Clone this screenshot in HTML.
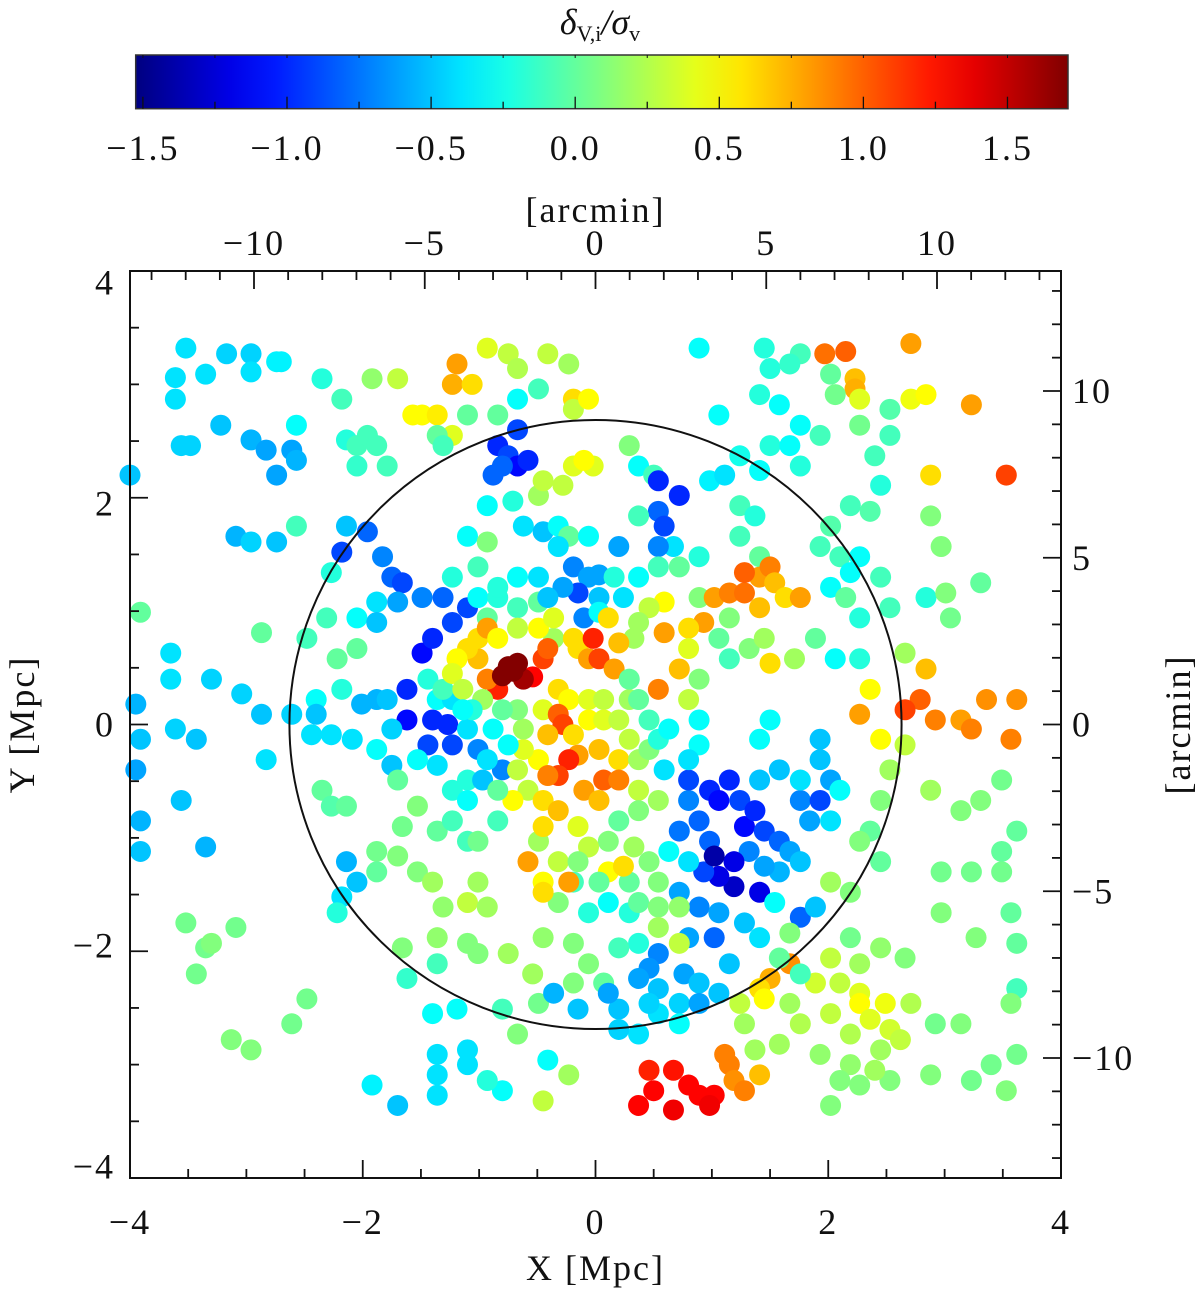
<!DOCTYPE html>
<html><head><meta charset="utf-8"><style>
html,body{margin:0;padding:0;background:#fff;}
svg{display:block;font-family:"Liberation Serif",serif;}
</style></head><body>
<svg id="chart" width="1200" height="1290" viewBox="0 0 1200 1290" xmlns="http://www.w3.org/2000/svg">
<defs><linearGradient id="jet" x1="0" x2="1" y1="0" y2="0"></linearGradient></defs>
<g id="cbar"></g>
<g id="points"></g>
<g id="axes"></g>
</svg>
<script>
// ---- data (X [Mpc], Y [Mpc], delta_v/sigma_v) ----
const outerLeft=[[-3.52,3.32,-0.4],[-3.61,3.06,-0.4],[-3.35,3.09,-0.4],[-3.17,3.27,-0.45],[-2.96,3.27,-0.45],[-2.96,3.11,-0.4],[-2.74,3.20,-0.35],[-2.70,3.20,-0.35],[-3.61,2.87,-0.4],[-3.22,2.64,-0.5],[-2.96,2.51,-0.55],[-2.83,2.42,-0.6],[-2.74,2.20,-0.6],[-2.61,2.42,-0.6],[-2.57,2.33,-0.55],[-2.57,2.64,-0.3],[-3.56,2.46,-0.45],[-3.48,2.46,-0.45],[-4.0,2.20,-0.5],[-3.09,1.66,-0.55],[-2.96,1.61,-0.45],[-2.74,1.61,-0.5],[-2.57,1.75,-0.1],[-3.91,0.99,0.0],[-2.87,0.81,0.0],[-3.65,0.63,-0.4],[-3.65,0.40,-0.4],[-3.30,0.40,-0.45],[-3.95,0.18,-0.55],[-3.91,-0.13,-0.5],[-3.61,-0.04,-0.45],[-3.43,-0.13,-0.5],[-3.04,0.27,-0.45],[-2.87,0.09,-0.5],[-2.61,0.09,-0.45],[-2.83,-0.31,-0.4],[-3.95,-0.40,-0.6],[-3.91,-0.85,-0.55],[-3.91,-1.12,-0.5],[-3.56,-0.67,-0.5],[-3.35,-1.08,-0.55],[-3.52,-1.75,0.05],[-3.35,-1.97,0.05],[-3.43,-2.20,0.05],[-3.30,-1.93,0.1],[-3.09,-1.79,0.05],[-3.13,-2.78,0.1],[-2.96,-2.87,0.1],[-2.61,-2.64,0.05],[-2.48,-2.42,0.05]];
const topMiddle=[[-2.35,3.05,-0.2],[-2.18,2.87,-0.1],[-1.92,3.05,0.15],[-1.70,3.05,0.3],[-1.57,2.73,0.5],[-1.49,2.73,0.5],[-1.36,2.73,0.55],[-1.23,2.55,0.4],[-1.19,3.18,0.8],[-1.23,3.00,0.75],[-1.06,3.00,0.6],[-0.93,3.32,0.4],[-0.75,3.27,0.3],[-0.67,3.14,0.25],[-0.41,3.27,0.3],[-0.23,3.18,0.2],[-0.19,2.87,0.6],[-1.10,2.73,0.0],[-0.84,2.73,0.0],[-0.67,2.87,-0.3],[-0.49,2.96,-0.1],[-1.36,2.55,0.0],[-1.31,2.46,-0.1],[-2.14,2.51,-0.2],[-2.05,2.46,-0.1],[-1.96,2.55,-0.1],[-1.88,2.46,-0.1],[-2.05,2.28,-0.15],[-1.79,2.28,-0.1]];
const topRight=[[0.89,3.32,-0.3],[1.45,3.32,-0.2],[1.76,3.27,-0.1],[1.97,3.27,0.95],[2.15,3.29,1.0],[2.71,3.36,0.8],[1.50,3.14,-0.2],[1.67,3.18,-0.15],[2.02,3.09,0.0],[2.23,3.05,0.7],[2.23,2.96,0.75],[2.06,2.91,0.05],[2.27,2.87,0.4],[2.71,2.87,0.45],[2.84,2.91,0.5],[3.23,2.82,0.8],[3.53,2.20,1.1],[2.88,2.20,0.6],[1.41,2.91,-0.2],[1.58,2.82,-0.3],[1.76,2.64,-0.3],[1.93,2.55,-0.1],[2.27,2.64,0.05],[2.53,2.78,-0.05],[2.53,2.55,-0.1],[2.40,2.37,-0.1],[2.45,2.11,-0.2],[2.19,1.93,-0.1],[2.36,1.88,-0.05],[2.88,1.84,0.1],[2.97,1.57,0.1],[2.84,1.12,-0.2],[3.01,1.16,0.1],[3.05,0.94,0.05],[3.31,1.25,0.0]];
const outerRight=[[2.66,0.63,0.2],[2.84,0.49,0.7],[2.79,0.22,1.0],[2.66,0.13,1.1],[2.92,0.04,0.9],[3.14,0.04,0.8],[3.36,0.22,0.85],[3.62,0.22,0.85],[3.57,-0.13,0.9],[3.23,-0.04,0.9],[2.66,-0.18,0.3],[2.88,-0.58,0.2],[3.14,-0.76,0.1],[3.31,-0.67,0.1],[3.49,-0.49,0.05],[3.62,-0.94,0.0],[3.49,-1.12,0.0],[2.97,-1.30,0.05],[3.23,-1.30,0.05],[3.49,-1.30,0.05],[2.97,-1.66,0.1],[3.27,-1.88,0.1],[3.57,-1.66,0.0],[3.62,-1.93,0.0],[3.62,-2.33,-0.1],[3.57,-2.46,0.1],[3.62,-2.91,0.05],[3.40,-3.00,0.05],[3.23,-3.14,0.05],[3.53,-3.23,0.1],[2.88,-3.09,0.1],[2.92,-2.64,0.05],[3.14,-2.64,0.1]];
const bottomRight=[[2.45,-1.97,0.15],[2.27,-2.11,0.2],[2.02,-2.06,0.3],[1.89,-2.28,0.35],[2.10,-2.28,0.3],[2.27,-2.37,0.4],[2.27,-2.46,0.5],[2.49,-2.46,0.45],[2.36,-2.60,0.4],[2.53,-2.69,0.35],[2.62,-2.78,0.3],[2.71,-2.46,0.25],[2.02,-2.55,0.3],[2.19,-2.73,0.25],[2.45,-2.87,0.2],[2.19,-3.00,0.15],[1.93,-2.91,0.15],[2.10,-3.14,0.1],[2.27,-3.18,0.1],[2.53,-3.14,0.1],[2.40,-3.05,0.2],[2.02,-3.36,0.1],[1.67,-2.46,0.2],[1.67,-2.11,0.85],[1.50,-2.24,0.75],[1.41,-2.33,0.6],[1.45,-2.42,0.5],[1.24,-2.46,0.3],[1.28,-2.64,0.2],[1.37,-2.87,0.2],[1.58,-2.82,0.2],[1.76,-2.64,0.25],[2.66,-2.06,0.1],[2.19,-1.88,0.05]];
const bottomCenter=[[1.11,-2.91,0.9],[1.15,-3.00,0.9],[1.19,-3.14,0.85],[1.41,-3.09,0.7],[1.28,-3.23,0.9],[0.46,-3.05,1.2],[0.67,-3.05,1.25],[0.37,-3.36,1.3],[0.50,-3.23,1.3],[0.67,-3.40,1.35],[0.89,-3.27,1.3],[1.02,-3.27,1.3],[0.98,-3.36,1.35],[0.80,-3.18,1.3],[-0.41,-2.96,-0.3],[-0.23,-3.09,0.2],[-0.80,-3.23,-0.3],[-0.93,-3.14,-0.2],[-1.10,-2.87,-0.4],[-1.10,-3.00,-0.4],[-1.36,-2.91,-0.4],[-1.36,-3.09,-0.4],[-1.36,-3.27,-0.4],[-0.67,-2.73,0.1],[-0.45,-3.32,0.3],[-1.40,-2.55,-0.3],[-1.19,-2.51,-0.3],[-0.80,-2.51,-0.1],[-0.49,-2.46,0.05],[-1.70,-3.36,-0.5],[-1.92,-3.18,-0.35]];
const innerLeft=[[-2.14,1.75,-0.5],[-1.96,1.70,-0.8],[-2.18,1.52,-0.9],[-1.83,1.48,-0.7],[-1.75,1.30,-0.8],[-1.66,1.25,-0.9],[-1.88,1.08,-0.4],[-2.05,0.94,-0.3],[-1.88,0.90,-0.5],[-2.27,1.34,-0.2],[-2.31,0.94,-0.1],[-2.48,0.76,-0.1],[-2.22,0.58,0.0],[-2.05,0.67,0.0],[-2.18,0.31,-0.2],[-2.40,0.22,-0.3],[-2.40,0.09,-0.5],[-2.44,-0.09,-0.4],[-2.27,-0.09,-0.4],[-2.09,-0.13,-0.4],[-1.88,-0.22,-0.3],[-1.75,-0.36,-0.5],[-1.62,0.31,-1.0],[-1.62,0.04,-1.1],[-1.40,0.04,-1.0],[-1.44,-0.18,-0.9],[-1.27,0.0,-1.0],[-1.49,0.63,-1.1],[-1.40,0.76,-1.0],[-1.23,0.90,-0.9],[-1.31,1.12,-0.8],[-1.49,1.12,-0.7],[-1.70,1.08,-0.6],[-2.35,-0.58,0.0],[-2.27,-0.72,-0.05],[-2.14,-0.72,0.0],[-2.14,-1.21,-0.55],[-2.05,-1.39,-0.5],[-2.18,-1.52,-0.4],[-2.22,-1.66,-0.2],[-1.88,-1.12,0.05],[-1.88,-1.30,0.0],[-1.70,-1.16,0.1],[-1.53,-1.30,0.1],[-1.40,-1.39,0.2],[-1.31,-1.61,0.15],[-1.10,-1.57,0.3],[-1.01,-1.39,0.2],[-0.93,-1.61,0.2],[-1.36,-0.94,0.0],[-1.23,-0.85,-0.1],[-1.10,-1.03,-0.1],[-1.01,-1.03,0.05],[-1.53,-0.72,0.1],[-1.70,-0.49,0.0],[-0.84,-0.85,-0.1],[-1.23,-0.58,-0.2],[-1.10,-0.49,-0.2],[-1.88,0.22,-0.55],[-1.75,-0.04,-0.45],[-1.66,-1.97,0.1],[-1.36,-1.88,0.15],[-1.10,-1.93,0.1],[-1.01,-2.02,0.1],[-0.75,-2.02,0.2],[-0.45,-1.88,0.15],[-0.19,-1.93,0.1],[-0.06,-2.11,0.1],[-1.62,-2.24,-0.15],[-1.36,-2.11,-0.1],[-0.54,-2.20,0.2],[-0.19,-2.28,0.1],[0.07,-2.28,0.0],[-0.36,-2.37,-0.55],[-0.15,-2.51,-0.5],[-1.10,1.03,-0.9],[-1.01,1.12,-0.3],[-0.84,1.12,-0.2],[-0.93,0.94,0.0],[-0.67,1.03,-0.1],[-0.49,1.08,0.0],[-0.36,0.76,0.2],[0.03,1.12,-0.5],[-0.10,0.94,-0.7],[0.03,0.99,-0.3],[-1.44,0.40,-0.2],[-1.36,0.22,-0.3],[-1.23,0.22,-0.4],[-1.31,0.31,-0.1],[-1.10,-0.04,-0.4],[-1.23,-0.18,-0.9],[-1.01,-0.22,-0.7],[-0.80,-0.40,-0.7],[-1.36,-0.36,-0.4],[-1.53,-0.31,-0.3],[-1.66,-0.90,0.05],[-1.79,0.22,-0.5],[-2.01,0.18,-0.55]];
const upperCenter=[[-0.84,2.46,-1.0],[-0.75,2.37,-0.9],[-0.67,2.28,-1.1],[-0.58,2.33,-1.0],[-0.67,2.60,-0.9],[-0.80,2.28,-0.8],[-0.88,2.20,-0.8],[-0.93,1.93,-0.3],[-0.71,1.97,-0.2],[-0.62,1.75,-0.4],[-0.45,1.70,-0.5],[-0.32,1.75,-0.3],[-0.23,1.66,0.0],[-0.06,1.66,-0.3],[-0.32,1.57,-0.4],[-0.19,1.39,-0.7],[-0.06,1.30,-0.6],[0.03,1.32,-0.6],[-0.15,1.16,-0.9],[-0.28,1.21,-0.6],[-0.41,1.12,-0.5],[-0.49,1.30,-0.4],[-0.67,1.30,-0.3],[-0.84,1.21,-0.2],[-1.01,1.39,-0.1],[-1.10,1.66,-0.3],[-0.93,1.61,0.1],[-1.23,1.30,-0.2],[-0.49,2.02,0.2],[-0.45,2.15,0.3],[-0.28,2.11,0.3],[-0.19,2.28,0.4],[-0.02,2.28,0.4],[-0.10,2.33,0.5],[-0.19,2.78,0.3],[-0.06,2.87,0.5],[0.29,2.46,0.1],[0.37,2.28,-0.3],[0.50,2.20,-0.1],[0.54,2.15,-1.0],[0.72,2.02,-1.0],[0.54,1.88,-0.8],[0.59,1.75,-0.9],[0.67,1.57,-0.4],[0.54,1.57,-0.7],[0.20,1.57,-0.6],[0.37,1.84,-0.1],[0.37,1.30,-0.3],[0.24,1.12,-0.4],[0.16,1.30,-0.2],[0.54,1.39,-0.1],[0.72,1.39,0.0],[0.89,1.48,-0.2],[0.98,2.15,-0.35],[1.11,2.20,-0.4],[1.06,2.73,-0.3],[1.24,2.37,-0.25],[1.24,1.93,-0.1],[1.24,1.66,-0.1],[1.37,1.84,-0.2],[1.41,2.24,-0.3],[1.50,2.46,-0.2],[1.67,2.46,-0.3],[1.76,2.28,-0.2],[1.41,1.48,0.0],[0.89,1.12,0.1],[1.02,1.12,0.8],[1.15,1.16,0.9],[1.28,1.16,0.95],[1.41,1.30,0.8],[1.50,1.39,0.9],[1.28,1.34,1.0],[1.54,1.25,0.7],[1.63,1.12,0.6],[1.76,1.12,0.8],[1.41,1.03,0.7],[1.15,0.94,0.1],[0.93,0.90,0.8],[0.80,0.85,0.6],[0.59,0.81,0.8],[0.59,1.08,0.5],[0.46,1.03,0.3],[0.37,0.90,0.2],[0.33,0.76,0.2],[0.80,0.67,0.4],[0.89,0.40,0.1],[1.06,0.76,0.0],[1.15,0.58,-0.1],[1.32,0.67,0.1],[1.45,0.76,0.2],[1.50,0.54,0.6],[1.71,0.58,0.2],[1.93,1.57,-0.1],[2.02,1.75,-0.05],[2.10,1.48,-0.1],[2.19,1.34,-0.3],[2.27,1.48,-0.3],[2.02,1.21,-0.3],[2.15,1.12,0.0],[2.27,0.94,-0.2],[2.06,0.58,-0.3],[2.27,0.58,-0.2],[1.89,0.76,0.0],[2.45,1.30,-0.1],[2.53,1.03,-0.1],[2.36,0.31,0.5],[2.27,0.09,0.8],[2.45,-0.13,0.5],[2.53,-0.40,0.2],[2.45,-0.67,0.1],[2.36,-0.94,0.0],[2.45,-1.21,0.0],[2.19,-1.48,0.1],[2.02,-1.39,0.2],[2.27,-1.03,0.1]];
const lowerRight=[[0.98,-0.58,-1.0],[1.06,-0.67,-1.1],[1.15,-0.49,-1.0],[1.24,-0.67,-0.9],[1.28,-0.90,-1.1],[1.37,-0.76,-1.0],[1.45,-0.94,-0.9],[1.58,-1.03,-0.8],[1.67,-1.12,-0.6],[1.76,-1.21,-0.5],[1.58,-1.30,-0.55],[1.45,-1.25,-0.6],[1.32,-1.12,-0.7],[1.19,-1.21,-1.2],[1.19,-1.43,-1.3],[1.06,-1.34,-1.2],[0.93,-1.30,-0.9],[0.98,-1.03,-0.8],[0.89,-0.85,-0.8],[0.80,-0.67,-0.7],[0.80,-0.49,-0.9],[0.72,-0.94,-0.75],[1.02,-1.16,-1.4],[1.41,-1.48,-1.2],[1.76,-0.67,-0.7],[1.84,-0.85,-0.6],[1.93,-0.67,-0.9],[2.02,-0.49,-0.6],[1.93,-0.31,-0.5],[1.76,-0.49,-0.4],[1.58,-0.40,-0.5],[1.41,-0.49,-0.5],[1.41,-0.13,-0.3],[1.50,0.04,-0.3],[1.93,-0.13,-0.5],[2.02,-0.85,-0.4],[2.10,-0.58,-0.3],[1.54,-1.57,-0.3],[1.76,-1.70,-0.8],[1.89,-1.61,-0.5],[0.80,-1.21,-0.4],[0.63,-1.12,-0.3],[0.72,-1.48,-0.6],[0.89,-1.61,-0.7],[1.06,-1.66,-0.6],[1.28,-1.75,-0.5],[1.41,-1.88,-0.4],[1.02,-1.88,-0.8],[0.80,-1.88,-0.6],[0.54,-2.02,-0.7],[0.46,-2.15,-0.65],[0.37,-2.24,-0.6],[0.54,-2.33,-0.5],[0.76,-2.20,-0.6],[0.89,-2.28,-0.5],[1.15,-2.11,-0.5],[1.06,-2.37,-0.5],[0.72,-2.46,-0.45],[0.54,-2.55,-0.4],[0.72,-2.64,-0.3],[0.89,-2.46,-0.6],[0.46,-2.46,-0.45],[0.20,-2.51,-0.5],[0.11,-2.37,-0.6],[0.37,-2.73,-0.4],[0.20,-2.69,-0.45],[1.58,-2.06,0.0],[1.67,-1.84,0.1],[1.76,-2.20,-0.1]];
const clusterCore=[[-0.84,0.31,1.2],[-0.93,0.40,0.9],[-1.01,0.58,0.7],[-1.10,0.67,0.6],[-1.19,0.58,0.5],[-1.23,0.45,0.4],[-1.14,0.31,0.3],[-0.97,0.22,0.2],[-1.06,0.13,-0.2],[-1.14,0.13,-0.3],[-1.01,0.76,0.6],[-0.93,0.85,0.8],[-0.84,0.76,0.5],[-0.67,0.85,0.3],[-0.49,0.85,0.5],[-0.36,0.94,0.4],[-0.19,0.76,0.6],[-0.15,0.67,0.6],[-0.06,0.58,0.8],[-0.02,0.76,1.2],[0.03,0.58,1.1],[0.16,0.49,0.8],[0.20,0.72,0.7],[0.11,0.94,0.6],[-0.32,0.31,0.6],[-0.23,0.22,0.5],[-0.06,0.22,0.4],[0.07,0.22,0.3],[0.29,0.22,0.2],[-0.45,0.13,0.4],[-0.32,0.09,1.0],[-0.28,0.0,1.1],[-0.41,-0.09,0.7],[-0.19,-0.09,0.6],[-0.06,0.04,0.5],[0.07,0.04,0.4],[0.20,0.04,0.3],[0.29,-0.13,0.3],[0.20,-0.31,0.6],[0.03,-0.22,0.7],[-0.15,-0.27,0.8],[-0.23,-0.31,1.2],[-0.32,-0.45,1.1],[-0.49,-0.31,0.5],[-0.62,-0.22,0.4],[-0.62,-0.04,0.2],[-0.67,0.13,0.1],[-0.80,0.13,0.0],[-0.88,-0.04,-0.3],[-0.75,-0.18,-0.3],[-0.93,-0.31,-0.4],[-0.97,-0.49,-0.5],[-0.58,-0.58,0.3],[-0.45,-0.67,0.6],[-0.41,-0.45,0.9],[-0.10,-0.58,0.8],[0.07,-0.49,1.0],[0.20,-0.49,0.9],[0.03,-0.67,0.7],[0.37,-0.58,0.3],[0.37,-0.31,0.2],[0.46,-0.22,0.1],[0.54,-0.13,-0.2],[0.63,-0.04,-0.3],[0.46,0.04,-0.1],[0.37,0.22,0.0],[0.29,0.40,0.0],[0.54,0.31,0.9],[0.72,0.49,0.7],[0.80,0.22,0.3],[0.89,0.04,-0.3],[0.89,-0.18,-0.3],[0.80,-0.31,-0.4],[0.59,-0.40,-0.4],[0.54,-0.67,0.2],[0.37,-0.76,0.1],[0.20,-0.85,0.0],[0.11,-1.03,0.1],[0.33,-1.08,0.2],[0.46,-1.21,0.1],[0.54,-1.39,0.1],[0.29,-1.39,0.0],[0.11,-1.30,0.5],[0.24,-1.25,0.6],[0.03,-1.39,0.0],[-0.19,-1.39,-0.1],[-0.32,-1.57,0.1],[-0.06,-1.66,-0.2],[0.11,-1.57,-0.3],[0.29,-1.66,-0.2],[0.37,-1.57,0.0],[0.54,-1.61,0.1],[0.72,-1.61,0.15],[0.54,-1.79,0.2],[0.72,-1.93,0.3],[0.37,-1.93,-0.2],[0.20,-1.97,-0.1],[-0.45,-1.39,0.5],[-0.45,-1.48,0.6],[-0.23,-1.39,0.8],[-0.32,-1.21,0.3],[-0.58,-1.21,0.8],[-0.49,-1.03,0.2],[-0.71,-0.67,0.5],[-0.45,-0.90,0.6],[-0.32,-0.76,0.7],[-0.15,-0.90,0.4],[-0.06,-1.08,0.3],[-0.15,-1.21,0.1],[-0.67,-0.40,0.3],[-0.84,-0.58,0.0],[-1.10,-0.67,-0.3],[-0.45,0.58,1.1],[-0.41,0.67,1.0],[-0.54,0.42,1.3],[-0.62,0.40,1.6],[-0.80,0.43,1.7],[-0.67,0.54,1.7],[-0.75,0.51,1.7],[-0.71,0.47,1.7]];
const regions=[outerLeft,topMiddle,topRight,outerRight,bottomRight,bottomCenter,innerLeft,upperCenter,lowerRight,clusterCore];
const r200=2.63; // circle radius [Mpc]
const xTicks=[-4,-2,0,2,4];
const yTicks=[-4,-2,0,2,4];
const arcTopTicks=[-10,-5,0,5,10];
const arcRightTicks=[-10,-5,0,5,10];
const cbTicks=[-1.5,-1.0,-0.5,0.0,0.5,1.0,1.5];
const cbMin=-1.525, cbMax=1.71;

// ---- scales ----
const PL=130,PR=1061,PT=271,PB=1178;
const sx=v=>PL+(v+4)/8*(PR-PL);
const sy=v=>PB-(v+4)/8*(PB-PT);
const X0=sx(0),Y0=sy(0);
const arcX=a=>X0+a*34.15;
const arcY=a=>Y0-a*33.35;
const CL=135.7,CR=1068,CT=55,CB=108.7;
const cx=v=>CL+(v-cbMin)/(cbMax-cbMin)*(CR-CL);
function jet(t){t=Math.max(0,Math.min(1,t));
 const c=f=>Math.round(255*Math.max(0,Math.min(1,1.5-Math.abs(4*t-f))));
 return `rgb(${c(3)},${c(2)},${c(1)})`;}
const colorOf=v=>jet((v-cbMin)/(cbMax-cbMin));
const NS="http://www.w3.org/2000/svg";
function mk(tag,attrs,parent){const e=document.createElementNS(NS,tag);for(const k in attrs)e.setAttribute(k,attrs[k]);parent.appendChild(e);return e;}
const fmt=v=>(v<0?"\u2212":"")+Math.abs(v);
const fmt1=v=>(v<0?"\u2212":"")+Math.abs(v).toFixed(1);

// gradient
const grad=document.getElementById('jet');
for(let i=0;i<=20;i++){mk('stop',{offset:(i/20),'stop-color':jet(i/20)},grad);}

// colorbar
const cb=document.getElementById('cbar');
const cbRect=mk('rect',{x:CL,y:CT,width:CR-CL,height:CB-CT,fill:'url(#jet)',stroke:'#333','stroke-width':1.5},cb);


for(let v=-1.5;v<=1.71;v+=0.25){const major=Math.abs(v*2-Math.round(v*2))<1e-6;
 const t=mk('line',{x1:cx(v),x2:cx(v),y1:CB,y2:CB-(major?12:7),stroke:'#111','stroke-width':1.3},cb);
 
 
 const t2=mk('line',{x1:cx(v),x2:cx(v),y1:CT,y2:CT+3,stroke:'#111','stroke-width':1},cb);
 
 }
cbTicks.forEach(v=>{const t=mk('text',{x:cx(v),y:160,'font-size':36,'letter-spacing':2,'text-anchor':'middle',fill:'#111'},cb);t.textContent=fmt1(v);
 
 });
const ttl=mk('text',{x:600,y:34,'font-size':36,'text-anchor':'middle',fill:'#111','font-style':'italic'},cb);


ttl.innerHTML='δ<tspan font-size="22" font-style="normal" dy="7">V,i</tspan><tspan dy="-7">/σ</tspan><tspan font-size="22" font-style="normal" dy="7">v</tspan>';

// points
const pg=document.getElementById('points');
regions.forEach(reg=>reg.forEach(p=>{
 const c=mk('circle',{cx:sx(p[0]),cy:sy(p[1]),r:10.5,fill:colorOf(p[2])},pg);
 
 
}));

// axes
const ax=document.getElementById('axes');
const circ=mk('ellipse',{cx:X0,cy:Y0,rx:sx(r200)-X0,ry:(sx(r200)-X0)*0.995,fill:'none',stroke:'#111','stroke-width':2},ax);


const frame=mk('rect',{x:PL,y:PT,width:PR-PL,height:PB-PT,fill:'none',stroke:'#111','stroke-width':2},ax);


function tick(x1,y1,x2,y2,name){const l=mk('line',{x1,y1,x2,y2,stroke:'#111','stroke-width':1.8},ax);
 
 }
for(let v=-4;v<=4.001;v+=0.5){const L=(Math.abs(v%2)<1e-6)?18:9;
 tick(sx(v),PB,sx(v),PB-L,'x-tick');
 tick(PL,sy(v),PL+L,sy(v),'y-tick');}
for(let a=-13;a<=13;a++){const x=arcX(a);if(x<PL+1||x>PR-1)continue;const L=(a%5===0)?18:9;tick(x,PT,x,PT+L,'top-arcmin-tick');}
for(let a=-13;a<=13;a++){const y=arcY(a);if(y<PT+1||y>PB-1)continue;const L=(a%5===0)?18:9;tick(PR,y,PR-L,y,'right-arcmin-tick');}
function label(x,y,txt,name,anchor){const t=mk('text',{x,y,'font-size':36,'letter-spacing':2,'text-anchor':anchor||'middle',fill:'#111'},ax);t.textContent=txt;
 
 return t;}
xTicks.forEach(v=>label(sx(v),1234,fmt(v),'x-tick-label'));
yTicks.forEach(v=>label(115,Y0-v*110.5+12,fmt(v),'y-tick-label','end'));
arcTopTicks.forEach(v=>label(arcX(v),255,fmt(v),'top-arcmin-tick-label'));
arcRightTicks.forEach(v=>label(1072,arcY(v)+12,fmt(v),'right-arcmin-tick-label','start'));
label(X0,1280,'X [Mpc]','x-axis-title');
label(X0,222,'[arcmin]','top-axis-title');
const yt=label(0,0,'Y [Mpc]','y-axis-title');yt.setAttribute('transform',`translate(34,${Y0}) rotate(-90)`);
const rt=label(0,0,'[arcmin]','right-axis-title');rt.setAttribute('transform',`translate(1190,${Y0}) rotate(-90)`);
</script>
</body></html>
